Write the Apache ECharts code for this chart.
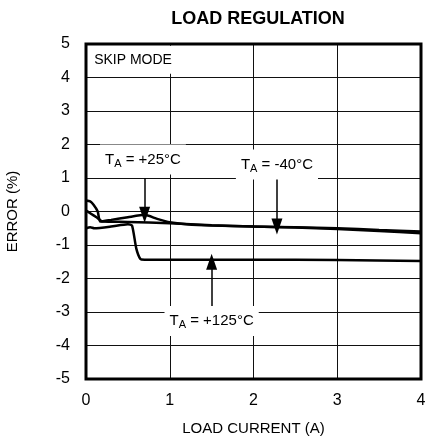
<!DOCTYPE html>
<html>
<head>
<meta charset="utf-8">
<script src="https://cdn.jsdelivr.net/npm/echarts@6/dist/echarts.min.js"></script>
<style>
html, body { margin: 0; padding: 0; background: #fff; }
#chart { width: 427px; height: 443px; }
</style>
</head>
<body>
<div id="chart"></div>
<script>
// load current (A) and error (%)
const load25 = [0, 0.05, 0.09, 0.14, 0.17, 0.3, 0.5, 0.7, 0.85, 1.0, 1.2, 1.5, 2.0, 2.5, 3.0, 3.5, 4.0];
const err25 = [0.33, 0.3, 0.2, 0.0, -0.3, -0.25, -0.17, -0.1, -0.22, -0.32, -0.38, -0.42, -0.45, -0.48, -0.52, -0.58, -0.65];

const loadM40 = [0, 0.05, 0.13, 0.2, 0.5, 1.0, 1.5, 2.0, 2.5, 3.0, 3.5, 4.0];
const errM40 = [0.03, -0.05, -0.18, -0.3, -0.31, -0.35, -0.41, -0.45, -0.47, -0.5, -0.55, -0.6];

const load125 = [0, 0.05, 0.1, 0.3, 0.5, 0.55, 0.6, 0.65, 0.7, 1.0, 2.0, 3.0, 4.0];
const err125 = [-0.5, -0.47, -0.5, -0.45, -0.38, -0.42, -1.1, -1.42, -1.44, -1.44, -1.44, -1.45, -1.48];

const font = "'Liberation Sans', Arial, sans-serif";

function pairs(xs, ys) {
    return xs.map((x, i) => [x, ys[i]]);
}

function tempLabel(coord, text) {
    return {
        coord: coord,
        symbol: "rect",
        symbolSize: 1,
        itemStyle: { color: "rgba(0,0,0,0)" },
        label: {
            show: true,
            position: "inside",
            formatter: "{t|T}{s|A}{t| = " + text + "}",
            backgroundColor: "#fff",
            padding: [5, 5, 5, 5],
            rich: {
                t: { fontFamily: font, fontSize: 15, color: "#000", lineHeight: 20 },
                s: { fontFamily: font, fontSize: 11, color: "#000", padding: [8, 0, 0, 0], lineHeight: 20 },
            },
        },
    };
}

function arrow(x, y0, y1) {
    return [
        { coord: [x, y0], symbol: "none" },
        { coord: [x, y1], symbol: "triangle" },
    ];
}

const curve = {
    type: "line",
    showSymbol: false,
    smooth: 0.2,
    lineStyle: { color: "#000", width: 2.5 },
    z: 3,
};

let chart = echarts.init(document.getElementById("chart"));
chart.setOption({
    animation: false,
    title: {
        text: "LOAD REGULATION",
        left: 253,
        textAlign: "center",
        top: 5,
        textStyle: { fontFamily: font, fontSize: 18, fontWeight: "bold", color: "#000" },
    },
    grid: {
        left: 86,
        right: 6,
        top: 44,
        bottom: 64,
        outerBoundsMode: "none",
        show: true,
        borderColor: "#000",
        borderWidth: 3,
        z: 6,
    },
    xAxis: {
        type: "value",
        min: 0,
        max: 4,
        interval: 1,
        name: "LOAD CURRENT (A)",
        nameLocation: "middle",
        nameGap: 42,
        nameTextStyle: { fontFamily: font, fontSize: 15, color: "#000" },
        axisLine: { show: false },
        axisTick: { show: false },
        axisLabel: { fontFamily: font, fontSize: 16, color: "#000", margin: 14 },
        splitLine: { lineStyle: { color: "#111", width: 1 } },
    },
    yAxis: {
        type: "value",
        min: -5,
        max: 5,
        interval: 1,
        name: "ERROR (%)",
        nameLocation: "middle",
        nameGap: 66,
        nameTextStyle: { fontFamily: font, fontSize: 15, color: "#000" },
        axisLine: { show: false },
        axisTick: { show: false },
        axisLabel: { fontFamily: font, fontSize: 16, color: "#000", margin: 16 },
        splitLine: { lineStyle: { color: "#111", width: 1 } },
    },
    series: [
        Object.assign({ name: "+25", data: pairs(load25, err25) }, curve),
        Object.assign({ name: "-40", data: pairs(loadM40, errM40) }, curve),
        Object.assign({ name: "+125", data: pairs(load125, err125) }, curve),
        {
            type: "scatter",
            data: [],
            z: 5,
            markLine: {
                silent: true,
                symbolSize: [11, 16],
                lineStyle: { color: "#000", width: 1.5, type: "solid" },
                label: { show: false },
                data: [
                    arrow(0.7, 1.0, -0.1),
                    arrow(2.28, 1.0, -0.45),
                    arrow(1.5, -2.9, -1.5),
                ],
            },
            markPoint: {
                silent: true,
                data: [
                    tempLabel([0.68, 1.55], "+25°C"),
                    tempLabel([2.28, 1.4], "-40°C"),
                    tempLabel([1.5, -3.27], "+125°C"),
                    {
                        coord: [0.55, 4.53],
                        symbol: "rect",
                        symbolSize: 1,
                        itemStyle: { color: "rgba(0,0,0,0)" },
                        label: {
                            show: true,
                            position: "inside",
                            formatter: "SKIP MODE",
                            backgroundColor: "#fff",
                            padding: [7, 6, 7, 8],
                            fontFamily: font,
                            fontSize: 14,
                            color: "#000",
                        },
                    },
                ],
            },
        },
    ],
});
</script>
</body>
</html>
